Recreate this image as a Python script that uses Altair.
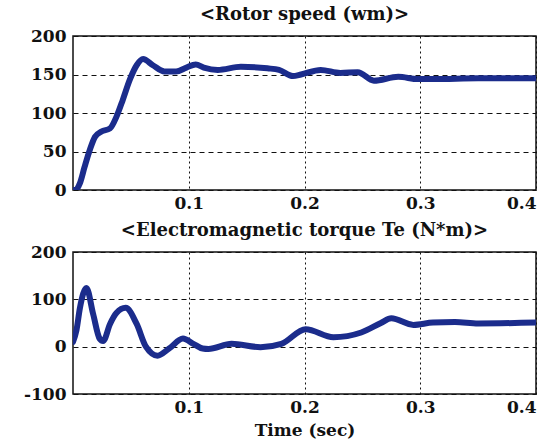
import altair as alt
import pandas as pd

# Rotor speed (rad/s) over time (s)
speed_t = [0.0, 0.002, 0.006, 0.010, 0.0145, 0.019, 0.0246, 0.032, 0.0375, 0.043,
           0.049, 0.055, 0.0605, 0.069, 0.079, 0.089, 0.098, 0.106, 0.113, 0.125,
           0.145, 0.168, 0.178, 0.190, 0.197, 0.214, 0.231, 0.246, 0.260, 0.281,
           0.298, 0.312, 0.35, 0.4]
speed_val = [0, 0, 9, 30, 52, 69, 76, 80, 95, 117,
             143, 162, 170, 162, 154, 154, 159, 163, 159, 156,
             160, 158, 156, 148, 150, 156, 152, 153, 142, 147,
             144, 144, 145, 145]

# Electromagnetic torque (N*m) over time (s)
torque_t = [0.0, 0.003, 0.006, 0.0116, 0.0174, 0.023, 0.026, 0.032, 0.0375, 0.0455,
            0.055, 0.063, 0.073, 0.083, 0.095, 0.104, 0.112, 0.117, 0.137, 0.162,
            0.180, 0.201, 0.225, 0.249, 0.266, 0.275, 0.294, 0.311, 0.33, 0.35, 0.4]
torque_val = [10, 35, 82, 124, 69, 17, 12, 48, 71, 82,
              48, 0, -19, -4, 17, 6, -4, -5, 6, -1,
              6, 37, 20, 30, 50, 60, 46, 51, 52, 49, 51]

x_ticks = [0.1, 0.2, 0.3, 0.4]
speed_ticks = [0, 50, 100, 150, 200]
torque_ticks = [-100, 0, 100, 200]

LINE = "#1b2c8c"
FONT = "DejaVu Serif"
W = 463

speed_df = pd.DataFrame({"t": speed_t, "v": speed_val})
torque_df = pd.DataFrame({"t": torque_t, "v": torque_val})


def panel(df, title, yticks, ydom, height, xtitle):
    x_axis = alt.Axis(values=x_ticks, format=".1f", title=xtitle,
                      gridDash=[2, 3], labelPadding=5)
    y_axis = alt.Axis(values=yticks, title=None, gridDash=[5, 4],
                      labelPadding=7, minExtent=58, maxExtent=58,
                      labelExpr="datum.value < 0 ? '-' + abs(datum.value) : datum.label")
    return (
        alt.Chart(df)
        .mark_line(color=LINE, strokeWidth=6, interpolate="monotone",
                   strokeCap="round", strokeJoin="round", clip=True)
        .encode(
            x=alt.X("t:Q", scale=alt.Scale(domain=[0, 0.4], nice=False), axis=x_axis),
            y=alt.Y("v:Q", scale=alt.Scale(domain=ydom, nice=False), axis=y_axis),
        )
        .properties(width=W, height=height,
                    title=alt.TitleParams(title, fontSize=18, font=FONT,
                                          fontWeight="bold", offset=3))
    )


top = panel(speed_df, "<Rotor speed (wm)>", speed_ticks, [0, 200], 154, None)
bottom = panel(torque_df, "<Electromagnetic torque Te (N*m)>", torque_ticks,
               [-100, 200], 142, "Time (sec)")

chart = (
    alt.vconcat(top, bottom, spacing=9)
    .properties(padding={"top": 5, "left": 14, "right": 10, "bottom": 0},
                background="white")
    .configure_view(stroke="#111111", strokeWidth=1.5)
    .configure_axis(
        domain=False, ticks=False, grid=True, gridColor="#111111", gridWidth=1,
        gridOpacity=1, labelFont=FONT, labelFontSize=17, labelFontWeight="bold",
        labelColor="#111111", titleFont=FONT, titleFontSize=17,
        titleFontWeight="bold", titleColor="#111111", titlePadding=7,
    )
    .configure_title(color="#111111", anchor="middle")
)

chart.save("out.html", embed_options={"renderer": "svg", "actions": False})
